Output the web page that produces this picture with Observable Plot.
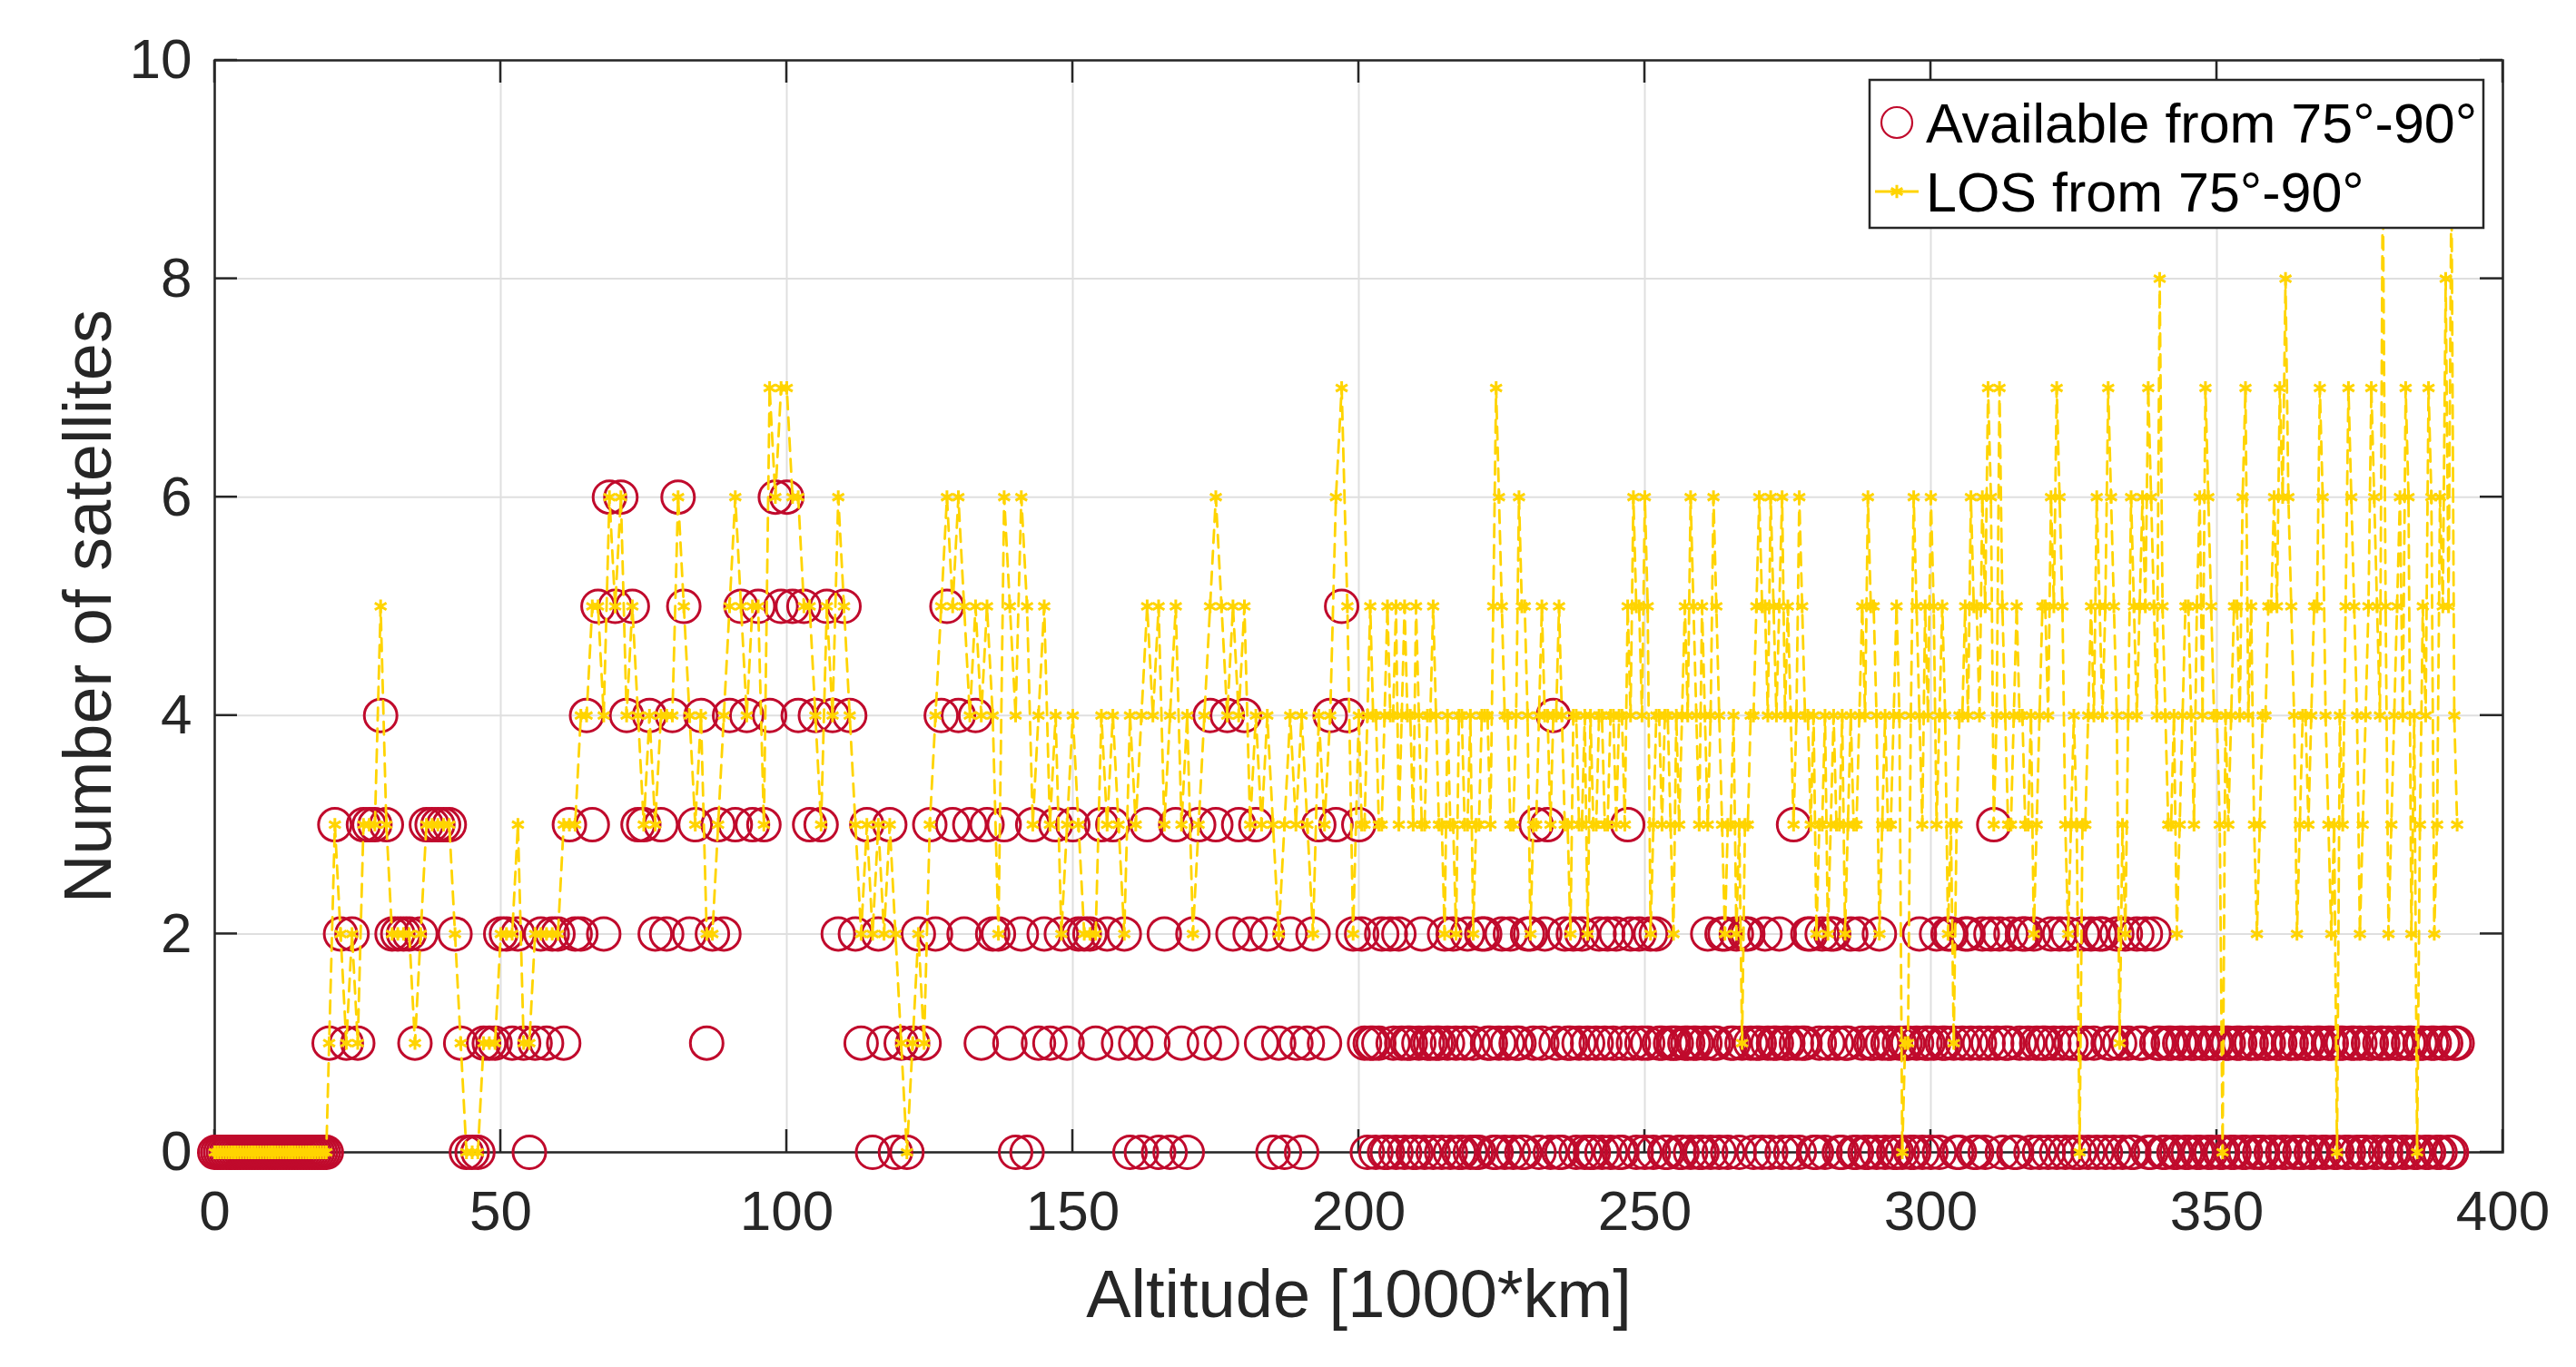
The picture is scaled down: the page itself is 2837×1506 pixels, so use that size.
<!DOCTYPE html>
<html><head><meta charset="utf-8">
<script src="https://cdn.jsdelivr.net/npm/d3@7"></script>
<script src="https://cdn.jsdelivr.net/npm/@observablehq/plot@0.6"></script>
<style>html,body{margin:0;padding:0;background:#fff;} #chart{width:2837px;height:1506px;}</style>
</head><body><div id="chart"></div>
<script>
// Altitude samples [1000*km] (whole steps)
const altitude = [
0,1,2,3,4,5,6,7,8,9,10,11,12,13,14,15,16,17,18,19,
20,21,22,23,24,25,26,27,28,29,30,31,32,33,34,35,36,37,38,39,
40,41,42,43,44,45,46,47,48,49,50,51,52,53,54,55,56,57,58,59,
60,61,62,63,64,65,66,67,68,69,70,71,72,73,74,75,76,77,78,79,
80,81,82,83,84,85,86,87,88,89,90,91,92,93,94,95,96,97,98,99,
100,101,102,103,104,105,106,107,108,109,110,111,112,113,114,115,116,117,118,119,
120,121,122,123,124,125,126,127,128,129,130,131,132,133,134,135,136,137,138,139,
140,141,142,143,144,145,146,147,148,149,150,151,152,153,154,155,156,157,158,159,
160,161,162,163,164,165,166,167,168,169,170,171,172,173,174,175,176,177,178,179,
180,181,182,183,184,185,186,187,188,189,190,191,192,193,194,195,196,197,198,199,
200,201,202,203,204,205,206,207,208,209,210,211,212,213,214,215,216,217,218,219,
220,221,222,223,224,225,226,227,228,229,230,231,232,233,234,235,236,237,238,239,
240,241,242,243,244,245,246,247,248,249,250,251,252,253,254,255,256,257,258,259,
260,261,262,263,264,265,266,267,268,269,270,271,272,273,274,275,276,277,278,279,
280,281,282,283,284,285,286,287,288,289,290,291,292,293,294,295,296,297,298,299,
300,301,302,303,304,305,306,307,308,309,310,311,312,313,314,315,316,317,318,319,
320,321,322,323,324,325,326,327,328,329,330,331,332,333,334,335,336,337,338,339,
340,341,342,343,344,345,346,347,348,349,350,351,352,353,354,355,356,357,358,359,
360,361,362,363,364,365,366,367,368,369,370,371,372,373,374,375,376,377,378,379,
380,381,382,383,384,385,386,387,388,389,390,391,392];

// Available from 75°-90° (whole steps)
const available = [
0,0,0,0,0,0,0,0,0,0, 0,0,0,0,0,0,0,0,0,0,
1,3,2,1,2,1,3,3,3,4, 3,2,2,2,2,1,2,3,3,3,
3,3,2,1,0,0,0,1,1,1, 2,2,1,2,1,0,1,2,1,2,
2,1,3,2,2,4,3,5,2,6, 5,6,4,5,3,3,4,2,3,2,
4,6,5,2,3,4,1,2,3,2, 4,3,5,4,3,5,3,4,6,5,
6,5,4,5,3,4,3,5,4,2, 5,4,2,1,3,0,2,1,3,0,
1,0,1,2,1,3,2,4,5,3, 4,2,3,4,1,3,2,2,3,1,
0,2,0,3,1,2,1,3,2,1, 3,2,2,2,1,3,2,3,1,2,
0,1,0,3,1,0,2,0,3,1, 0,2,3,1,4,3,1,4,2,3,
4,2,3,1,2,0,1,0,2,1, 0,1,2,3,1,4,3,5,4,2,
3,1,1,0,2,0,1,2,0,1, 0,2,1,0,1,2,0,1,0,2,
1,0,2,1,0,2,1,0,1,0, 2,3,1,3,4,0,2,1,0,2,
1,0,2,1,0,2,0,3,1,2, 0,2,2,1,0,1,0,1,0,1,
0,2,1,0,2,1,2,1,2,0, 1,2,0,1,0,1,3,0,1,2,
0,2,1,2,0,1,2,0,1,0, 1,2,0,1,0,0,1,0,2,1,
0,2,1,2,1,0,2,1,0,2, 1,3,2,1,2,0,2,1,2,0,
1,2,0,1,2,0,0,1,2,0, 2,1,0,1,2,0,2,1,0,2,
1,0,1,0,1,0,1,0,1,0, 1,0,1,0,1,0,1,1,0,1,
0,1,0,1,1,0,1,0,1,0, 1,0,1,0,1,1,0,1,0,1,
1,0,1,0,1,0,1,0,1,0, 1,0,1];

// LOS from 75°-90° (whole steps)
const los = [
0,0,0,0,0,0,0,0,0,0, 0,0,0,0,0,0,0,0,0,0,
1,3,2,1,2,1,3,3,3,5, 3,2,2,2,2,1,2,3,3,3,
3,3,2,1,0,0,0,1,1,1, 2,2,2,3,1,1,2,2,2,2,
2,3,3,3,4,4,5,5,4,6, 5,6,4,5,4,3,4,3,4,4,
4,6,5,4,3,4,2,2,3,4, 5,6,5,4,5,5,3,7,6,7,
7,6,6,5,5,4,3,5,4,6, 5,4,3,2,3,2,3,2,3,2,
1,0,1,2,1,3,4,5,6,5, 6,5,4,5,4,5,4,2,6,5,
4,6,5,3,4,5,3,4,2,3, 4,3,2,2,2,4,3,4,3,2,
4,3,4,5,4,5,3,4,5,3, 4,2,3,4,5,6,5,4,5,4,
5,3,4,3,4,3,2,3,4,3, 4,3,2,4,3,4,6,7,5,2,
4,3,5,4,3,5,4,3,5,4, 5,3,4,5,3,2,3,2,4,3,
2,3,4,3,7,5,4,3,6,5, 2,3,5,4,4,5,3,2,4,3,
2,3,4,3,4,3,4,5,6,5, 6,2,4,3,4,2,3,5,6,4,
5,3,6,4,2,3,2,1,3,4, 6,5,6,4,6,5,3,6,4,3,
2,3,2,4,3,2,4,3,5,6, 5,2,4,3,5,0,1,6,4,5,
6,3,5,2,1,4,5,6,5,6, 7,3,7,4,3,5,4,3,2,4,
5,6,7,5,2,4,0,3,5,6, 4,7,5,1,2,6,4,6,7,5,
8,4,3,2,4,5,3,6,7,5, 4,0,3,5,4,7,5,2,4,5,
6,7,8,5,2,4,3,5,7,4, 2,0,3,7,5,2,4,7,5,9,
2,4,6,7,2,0,5,7,2,6, 8,9,3];

// Extra half-step samples where the reference is densely sampled
const altitudeMid = [
0.5,1.5,2.5,3.5,4.5,5.5,6.5,7.5,8.5,9.5,10.5,11.5,12.5,13.5,14.5,15.5,16.5,17.5,18.5,19.5,
200.5,201.5,202.5,203.5,204.5,205.5,206.5,207.5,208.5,209.5,
210.5,211.5,212.5,213.5,214.5,215.5,216.5,217.5,218.5,219.5,
220.5,221.5,222.5,223.5,224.5,225.5,226.5,227.5,228.5,229.5,
230.5,231.5,232.5,233.5,234.5,235.5,236.5,237.5,238.5,239.5,
240.5,241.5,242.5,243.5,244.5,245.5,246.5,247.5,248.5,249.5,
250.5,251.5,252.5,253.5,254.5,255.5,256.5,257.5,258.5,259.5,
260.5,261.5,262.5,263.5,264.5,265.5,266.5,267.5,268.5,269.5,
270.5,271.5,272.5,273.5,274.5,275.5,276.5,277.5,278.5,279.5,
280.5,281.5,282.5,283.5,284.5,285.5,286.5,287.5,288.5,289.5,
290.5,291.5,292.5,293.5,294.5,295.5,296.5,297.5,298.5,299.5,
300.5,301.5,302.5,303.5,304.5,305.5,306.5,307.5,308.5,309.5,
310.5,311.5,312.5,313.5,314.5,315.5,316.5,317.5,318.5,319.5,
320.5,321.5,322.5,323.5,324.5,325.5,326.5,327.5,328.5,329.5,
330.5,331.5,332.5,333.5,334.5,335.5,336.5,337.5,338.5,339.5,
340.5,341.5,342.5,343.5,344.5,345.5,346.5,347.5,348.5,349.5,
350.5,351.5,352.5,353.5,354.5,355.5,356.5,357.5,358.5,359.5,
360.5,361.5,362.5,363.5,364.5,365.5,366.5,367.5,368.5,369.5,
370.5,371.5,372.5,373.5,374.5,375.5,376.5,377.5,378.5,379.5,
380.5,381.5,382.5,383.5,384.5,385.5,386.5,387.5,388.5,389.5,
390.5,391.5];

const availableMid = [
0,0,0,0,0,0,0,0,0,0, 0,0,0,0,0,0,0,0,0,0,
2,0,1,1,0,2,0,1,1,0, 1,0,1,1,0,1,2,0,1,0,
0,2,1,0,1,0,2,1,0,2, 1,0,2,0,1,0,1,2,1,0,
0,1,0,2,1,0,1,2,0,1, 1,0,1,0,1,1,0,1,1,0,
1,0,1,2,0,1,0,2,1,1, 0,1,1,2,1,0,1,1,2,0,
1,0,2,1,0,1,0,2,0,1, 0,1,1,0,1,1,0,1,0,1,
1,0,1,2,0,1,2,0,1,0, 2,1,0,1,0,1,2,0,1,1,
0,1,2,0,1,1,2,0,1,2, 0,1,2,0,1,0,1,2,0,1,
0,1,0,1,0,1,0,1,0,1, 0,1,0,1,0,1,0,0,1,0,
1,0,1,0,0,1,0,1,0,1, 0,1,0,1,0,0,1,0,1,0,
0,1,0,1,0,1,0,1,0,1, 0,1];

const losMid = [
0,0,0,0,0,0,0,0,0,0, 0,0,0,0,0,0,0,0,0,0,
3,4,4,3,4,4,5,4,4,3, 4,3,4,4,3,4,3,4,3,4,
3,4,4,5,6,4,3,4,5,4, 3,4,4,3,4,4,3,4,3,4,
4,3,4,3,4,4,3,4,5,4, 5,3,4,4,3,4,4,4,5,3,
4,4,5,3,3,4,3,3,4,5, 5,4,5,5,4,4,4,5,4,4,
3,4,3,3,4,3,3,4,4,5, 4,3,3,4,4,1,4,5,3,4,
5,4,4,3,3,4,4,5,4,5, 6,4,5,3,4,4,3,4,3,5,
4,5,6,3,3,3,3,4,4,5, 5,6,4,3,4,5,5,5,6,4,
5,3,4,3,5,4,5,4,6,4, 3,4,4,5,6,4,3,3,4,5,
5,6,6,4,3,4,4,5,6,3, 3,4,5,6,4,3,5,6,4,5,
3,5,4,6,4,3,4,6,3,5, 5,4];

const xTicks = [0, 50, 100, 150, 200, 250, 300, 350, 400];
const yTicks = [0, 2, 4, 6, 8, 10];
const xTitle = "Altitude [1000*km]";
const yTitle = "Number of satellites";
const legendLabels = ["Available from 75°-90°", "LOS from 75°-90°"];

const RED = "#C00A2C";
const GOLD = "#FFD400";
const AXIS = "#262626";
const FONT = "'Liberation Sans', Arial, Helvetica, sans-serif";

const rows = altitude.map((a, i) => ({alt: a, avail: available[i], los: los[i]}))
  .concat(altitudeMid.map((a, i) => ({alt: a, avail: availableMid[i], los: losMid[i]})))
  .sort((p, q) => p.alt - q.alt);

function innerTicks(index, scales, values, dimensions) {
  const {x, y} = scales;
  const {width, height, marginLeft, marginRight, marginTop, marginBottom} = dimensions;
  const L = 25;
  const g = d3.create("svg:g").attr("stroke", AXIS).attr("stroke-width", 2.5);
  const y0 = height - marginBottom, y1 = marginTop;
  const x0 = marginLeft, x1 = width - marginRight;
  for (const t of xTicks) {
    const px = x(t);
    g.append("line").attr("x1", px).attr("x2", px).attr("y1", y0).attr("y2", y0 - L);
    g.append("line").attr("x1", px).attr("x2", px).attr("y1", y1).attr("y2", y1 + L);
  }
  for (const t of yTicks) {
    const py = y(t);
    g.append("line").attr("x1", x0).attr("x2", x0 + L).attr("y1", py).attr("y2", py);
    g.append("line").attr("x1", x1).attr("x2", x1 - L).attr("y1", py).attr("y2", py);
  }
  return g.node();
}

function legend(index, scales, values, dimensions) {
  const {width, marginRight, marginTop} = dimensions;
  const right = width - marginRight - 21, top = marginTop + 22;
  const w = 676, h = 163, left = right - w;
  const g = d3.create("svg:g");
  g.append("rect").attr("x", left).attr("y", top).attr("width", w).attr("height", h)
    .attr("fill", "white").attr("stroke", AXIS).attr("stroke-width", 2.5);
  const r1 = top + 47, r2 = top + 123;
  g.append("circle").attr("cx", left + 30).attr("cy", r1).attr("r", 17)
    .attr("fill", "none").attr("stroke", RED).attr("stroke-width", 2.2);
  g.append("line").attr("x1", left + 6).attr("x2", left + 54).attr("y1", r2).attr("y2", r2)
    .attr("stroke", GOLD).attr("stroke-width", 2.8);
  g.append("path").attr("d", d3.symbol(d3.symbolAsterisk, 150)())
    .attr("transform", `translate(${left + 30},${r2})`)
    .attr("fill", "none").attr("stroke", GOLD).attr("stroke-width", 3);
  [r1, r2].forEach((ry, i) => {
    g.append("text").attr("x", left + 62).attr("y", ry).attr("dy", "0.36em")
      .attr("text-anchor", "start")
      .attr("font-size", 61).attr("font-family", FONT).attr("fill", "#000")
      .text(legendLabels[i]);
  });
  return g.node();
}

const chart = Plot.plot({
  width: 2837,
  height: 1506,
  marginLeft: 236,
  marginRight: 81,
  marginTop: 66,
  marginBottom: 237,
  style: {fontFamily: FONT, fontSize: "62px", color: AXIS, background: "white", overflow: "visible"},
  x: {domain: [0, 400], label: null},
  y: {domain: [0, 10], label: null},
  marks: [
    Plot.gridX(xTicks, {stroke: "#DFDFDF", strokeOpacity: 1, strokeWidth: 2}),
    Plot.gridY(yTicks, {stroke: "#DFDFDF", strokeOpacity: 1, strokeWidth: 2}),
    Plot.frame({stroke: AXIS, strokeWidth: 2.5}),
    innerTicks,
    Plot.axisX(xTicks, {tickSize: 0, tickPadding: 41, fontSize: 62, label: null, tickFormat: d => String(d)}),
    Plot.axisY(yTicks, {tickSize: 0, tickPadding: 25, fontSize: 62, label: null, tickFormat: d => String(d)}),
    Plot.text([xTitle], {text: d => d, frameAnchor: "bottom", textAnchor: "middle", dy: 158, lineAnchor: "middle", fontSize: 74, fill: AXIS}),
    Plot.text([yTitle], {text: d => d, frameAnchor: "left", textAnchor: "middle", dx: -138, rotate: -90, lineAnchor: "middle", fontSize: 74, fill: AXIS}),
    Plot.dot(rows, {x: "alt", y: "avail", r: 18, stroke: RED, strokeWidth: 3, fill: "none"}),
    Plot.line(rows, {x: "alt", y: "los", stroke: GOLD, strokeWidth: 2.8, strokeDasharray: "14,9"}),
    Plot.dot(rows, {x: "alt", y: "los", symbol: "asterisk", r: 7, stroke: GOLD, strokeWidth: 3}),
    legend
  ]
});
document.getElementById("chart").appendChild(chart);
</script>
</body></html>
